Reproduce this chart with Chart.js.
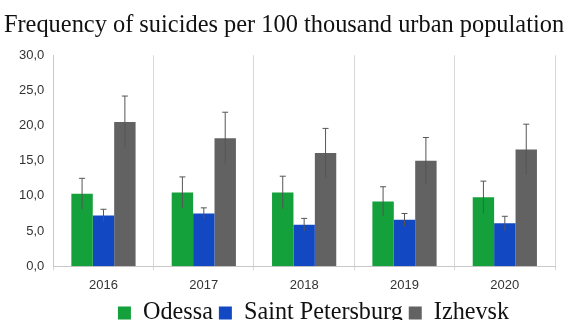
<!DOCTYPE html>
<html>
<head>
<meta charset="utf-8">
<script src="https://cdn.jsdelivr.net/npm/chart.js@4/dist/chart.umd.min.js"></script>
<style>
html,body{margin:0;padding:0;background:#fff;overflow:hidden;}
#wrap{width:565px;height:340px;position:relative;}
</style>
</head>
<body>
<div id="wrap"><canvas id="c" width="565" height="340"></canvas></div>
<script>
const years = ['2016','2017','2018','2019','2020'];
const odessa = [10.3, 10.5, 10.5, 9.2, 9.8];
const odessaErr = [2.2, 2.2, 2.3, 2.1, 2.3];
const spb = [7.2, 7.5, 5.9, 6.6, 6.1];
const spbErr = [0.9, 0.8, 0.9, 0.9, 1.0];
const izhevsk = [20.5, 18.2, 16.1, 15.0, 16.6];
const izhevskErr = [3.7, 3.7, 3.5, 3.3, 3.6];
const yTicks = [0, 5, 10, 15, 20, 25, 30];

const errorBars = {
  id: 'errorBars',
  afterDatasetsDraw(chart) {
    const ctx = chart.ctx;
    const ys = chart.scales.y;
    chart.data.datasets.forEach((ds, i) => {
      const meta = chart.getDatasetMeta(i);
      meta.data.forEach((bar, j) => {
        const v = ds.data[j], e = ds.errors[j];
        const x = bar.x;
        const yHi = ys.getPixelForValue(v + e);
        const yLo = ys.getPixelForValue(v - e);
        ctx.save();
        ctx.strokeStyle = '#555';
        ctx.lineWidth = 1;
        ctx.beginPath();
        ctx.moveTo(x, yLo); ctx.lineTo(x, yHi);
        ctx.moveTo(x - 3, yHi); ctx.lineTo(x + 3, yHi);
        ctx.stroke();
        ctx.restore();
      });
    });
  }
};

const boxShift = {
  id: 'boxShift',
  afterLayout(chart) {
    const lg = chart.legend;
    if (lg) { lg.left += 27; lg.right += 27; lg.top -= 5; lg.bottom -= 5; }
    const tb = chart.titleBlock;
    if (tb) { tb.left = 2; tb.right = 566; tb.width = 564; }
  }
};

new Chart(document.getElementById('c'), {
  type: 'bar',
  data: {
    labels: years,
    datasets: [
      { label: 'Odessa', data: odessa, errors: odessaErr, backgroundColor: '#14a03a' },
      { label: 'Saint Petersburg', data: spb, errors: spbErr, backgroundColor: '#1249c2' },
      { label: 'Izhevsk', data: izhevsk, errors: izhevskErr, backgroundColor: '#626262' }
    ]
  },
  options: {
    responsive: false,
    animation: false,
    layout: { padding: { left: 18, right: 10, top: 0, bottom: 0 } },
    datasets: { bar: { categoryPercentage: 0.64, barPercentage: 1.0 } },
    plugins: {
      title: {
        display: true,
        text: 'Frequency of suicides per 100 thousand urban population',
        font: { family: '"Liberation Serif", "Times New Roman", serif', size: 24.4, weight: 'normal' },
        color: '#111',
        padding: { top: 11, bottom: 15 }
      },
      legend: {
        position: 'bottom',
        labels: {
          font: { family: '"Liberation Serif", "Times New Roman", serif', size: 24.2 },
          color: '#111',
          boxWidth: 13, boxHeight: 13, padding: 6
        }
      },
      tooltip: { enabled: false }
    },
    scales: {
      x: {
        grid: { offset: true, color: '#d8d8d8', drawTicks: true, tickLength: 4 },
        border: { color: '#c8c8c8' },
        ticks: { font: { family: '"Liberation Sans", Arial, sans-serif', size: 13 }, color: '#333', padding: 7 }
      },
      y: {
        min: 0, max: 30,
        afterBuildTicks(axis) { axis.ticks = yTicks.map(v => ({ value: v })); },
        grid: { display: false },
        border: { color: '#c8c8c8' },
        ticks: {
          font: { family: '"Liberation Sans", Arial, sans-serif', size: 13 }, color: '#333', padding: 1,
          callback: v => v.toFixed(1).replace('.', ',')
        }
      }
    }
  },
  plugins: [errorBars, boxShift]
});
</script>
</body>
</html>
